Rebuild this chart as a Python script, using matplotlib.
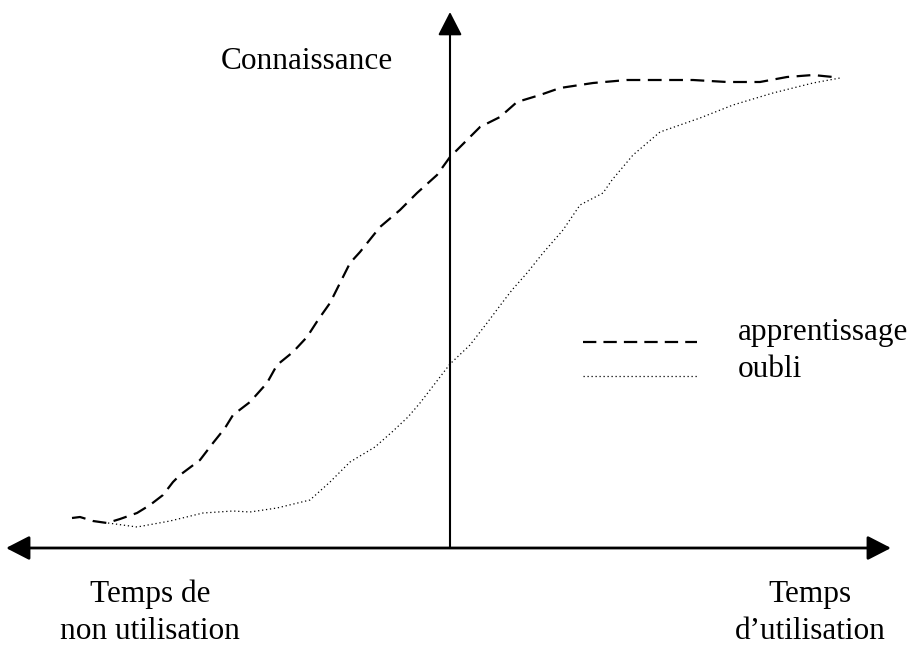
import matplotlib
matplotlib.use("Agg")
import matplotlib.pyplot as plt

plt.rcParams['font.family'] = ['Liberation Serif', 'DejaVu Serif']

# courbes (x, y en pixels, y vers le bas)
appr_x = [72, 80, 93, 107, 120, 137, 150, 163, 173, 180, 200, 213, 225, 233, 250, 267,
          277, 293, 307, 318, 330, 340, 350, 360, 380, 400, 417, 437, 450, 467, 480,
          500, 517, 540, 560, 593, 627, 660, 693, 727, 760, 787, 813, 833]
appr_y = [518, 517, 521, 523, 519, 513, 505, 495, 482, 475, 460, 443, 428, 415, 402, 383,
          365, 352, 337, 320, 303, 283, 263, 252, 227, 210, 193, 175, 157, 140, 127,
          117, 102, 95, 88, 83, 80, 80, 80, 82, 82, 77, 75, 77]

oubli_x = [108, 137, 170, 203, 233, 250, 277, 310, 330, 350, 375, 392, 408, 420, 430,
           450, 470, 487, 502, 512, 527, 543, 563, 580, 603, 612, 633, 660, 700, 733,
           773, 813, 840]
oubli_y = [523, 527, 521, 513, 511, 512, 508, 500, 482, 462, 447, 432, 417, 403, 390,
           364, 345, 323, 303, 290, 273, 253, 230, 205, 193, 180, 155, 132, 118, 105,
           93, 83, 78]

legend_labels = ['apprentissage', 'oubli']
fs = 22.5

fig = plt.figure(figsize=(9.16, 6.48), dpi=100)
ax = fig.add_axes([0, 0, 1, 1])
ax.set_xlim(0, 916)
ax.set_ylim(648, 0)
ax.axis('off')

# axes avec fleches
ax.annotate('', xy=(891, 548), xytext=(6, 548),
            arrowprops=dict(arrowstyle='<|-|>,head_length=0.72,head_width=0.37', lw=2.0,
                            color='k', shrinkA=0, shrinkB=0, mutation_scale=20))
ax.annotate('', xy=(450, 12), xytext=(450, 548),
            arrowprops=dict(arrowstyle='-|>,head_length=0.72,head_width=0.37', lw=1.5,
                            color='k', shrinkA=0, shrinkB=0, mutation_scale=20))

ax.plot(appr_x, appr_y, color='k', lw=1.6, dashes=(6.2, 3.4))
ax.plot(oubli_x, oubli_y, color='k', lw=0.9, dashes=(1, 2.2))

# legende faite a la main
ax.plot([583, 697], [342, 342], color='k', lw=1.6, dashes=(6.0, 3.2))
ax.plot([583, 697], [376, 376], color='k', lw=0.9, dashes=(1, 2.2))
ax.text(738, 340, legend_labels[0], fontsize=fs, va='baseline', ha='left')
ax.text(738, 377, legend_labels[1], fontsize=fs, va='baseline', ha='left')

ax.text(221, 69, 'Connaissance', fontsize=fs, va='baseline', ha='left')
ax.text(150, 602, 'Temps de', fontsize=fs, va='baseline', ha='center')
ax.text(150, 639, 'non utilisation', fontsize=fs, va='baseline', ha='center')
ax.text(810, 602, 'Temps', fontsize=fs, va='baseline', ha='center')
ax.text(810, 639, 'd\u2019utilisation', fontsize=fs, va='baseline', ha='center')

fig.savefig('out.png', dpi=100)
